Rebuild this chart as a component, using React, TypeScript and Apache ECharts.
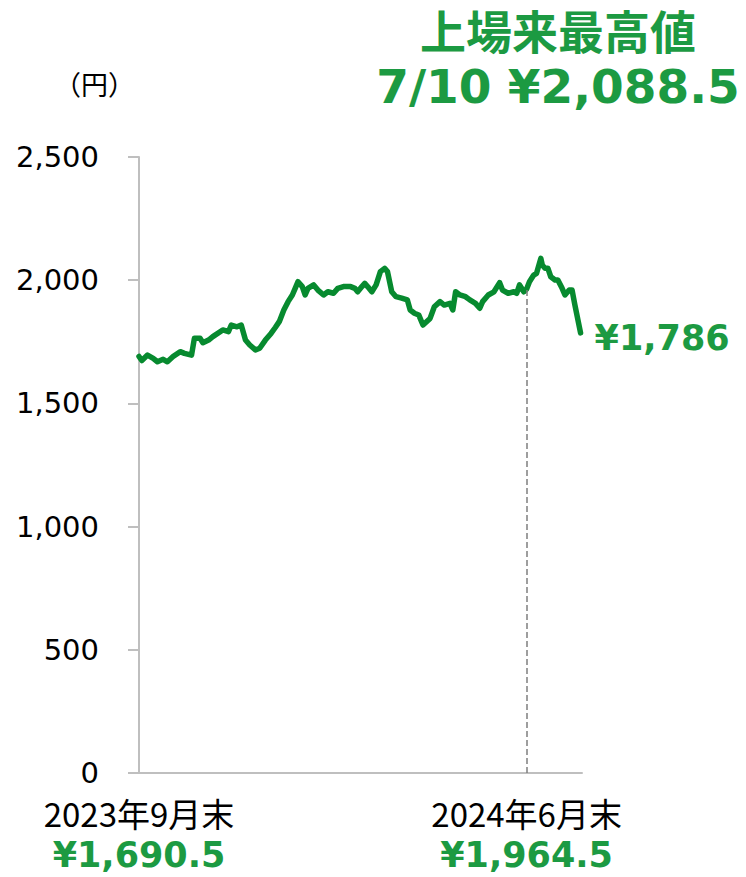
import React, { useEffect, useRef } from "react";
import * as echarts from "echarts";

const dates: string[] = [
  "2023-09-29", "2023-10-01", "2023-10-05", "2023-10-09", "2023-10-12", "2023-10-16", "2023-10-19", "2023-10-23",
  "2023-10-28", "2023-10-31", "2023-11-05", "2023-11-07", "2023-11-11", "2023-11-13", "2023-11-17", "2023-11-20",
  "2023-11-27", "2023-12-01", "2023-12-03", "2023-12-07", "2023-12-10", "2023-12-13", "2023-12-16", "2023-12-20",
  "2023-12-23", "2023-12-27", "2023-12-31", "2024-01-03", "2024-01-06", "2024-01-09", "2024-01-12", "2024-01-15",
  "2024-01-17", "2024-01-19", "2024-01-22", "2024-01-24", "2024-01-26", "2024-01-30", "2024-02-02", "2024-02-06",
  "2024-02-09", "2024-02-13", "2024-02-16", "2024-02-20", "2024-02-25", "2024-02-28", "2024-03-01", "2024-03-04",
  "2024-03-06", "2024-03-08", "2024-03-11", "2024-03-14", "2024-03-17", "2024-03-20", "2024-03-22", "2024-03-25",
  "2024-03-28", "2024-04-01", "2024-04-05", "2024-04-07", "2024-04-10", "2024-04-13", "2024-04-16", "2024-04-21",
  "2024-04-24", "2024-04-28", "2024-05-01", "2024-05-05", "2024-05-07", "2024-05-09", "2024-05-12", "2024-05-16",
  "2024-05-19", "2024-05-23", "2024-05-26", "2024-05-28", "2024-06-01", "2024-06-05", "2024-06-09", "2024-06-11",
  "2024-06-15", "2024-06-19", "2024-06-21", "2024-06-23", "2024-06-26", "2024-06-28", "2024-06-30", "2024-07-03",
  "2024-07-05", "2024-07-08", "2024-07-09", "2024-07-11", "2024-07-13", "2024-07-15", "2024-07-18", "2024-07-20",
  "2024-07-23", "2024-07-25", "2024-07-28", "2024-07-30", "2024-08-01", "2024-08-05",
];

const prices: number[] = [
  1690.5, 1674, 1696, 1683, 1669, 1679, 1669, 1690,
  1710, 1703, 1696, 1764, 1764, 1746, 1757, 1771,
  1798, 1791, 1818, 1811, 1818, 1757, 1737, 1717,
  1724, 1757, 1784, 1808, 1834, 1879, 1913, 1940,
  1967, 1994, 1974, 1940, 1967, 1981, 1960, 1940,
  1953, 1947, 1967, 1974, 1974, 1967, 1953, 1974,
  1987, 1974, 1953, 1981, 2035, 2048, 2035, 1953,
  1933, 1927, 1920, 1879, 1866, 1859, 1818, 1845,
  1892, 1913, 1899, 1906, 1879, 1953, 1940, 1933,
  1920, 1906, 1886, 1913, 1940, 1953, 1990, 1960,
  1947, 1953, 1947, 1981, 1953, 1964.5, 1994, 2021,
  2028, 2088.5, 2062, 2048, 2048, 2014, 2001, 2001,
  1967, 1940, 1960, 1960, 1899, 1786,
];

const axisStart = "2023-09-29";
const axisEnd = "2024-08-06";
const yTicks: number[] = [0, 500, 1000, 1500, 2000, 2500];
const labelDates: string[] = ["2023-09-29", "2024-06-28"];
const labelTexts: string[] = ["2023年9月末", "2024年6月末"];
const labelPrices: string[] = ["¥1,690.5", "¥1,964.5"];
const markDate = "2024-06-28";
const markValue = 1964.5;
const titleLine1 = "上場来最高値";
const titleLine2 = "7/10 ¥2,088.5";
const unitLabel = "（円）";

const GREEN_LINE = "#078a2f";
const GREEN_TEXT = "#1c9a42";

function toTs(s: string): number {
  const [y, m, d] = s.split("-").map(Number);
  return new Date(y, m - 1, d).getTime();
}

export default function App() {
  const ref = useRef<HTMLDivElement>(null);

  useEffect(() => {
    if (!ref.current) return;
    const chart = echarts.init(ref.current, undefined, { renderer: "svg" });
    const labelTs = labelDates.map(toTs);
    const option: any = {
      animation: false,
      backgroundColor: "#ffffff",
      title: [
        {
          left: 558,
          top: 4,
          padding: 0,
          textAlign: "center",
          text: titleLine1,
          textStyle: { fontFamily: "Noto Sans CJK JP", fontWeight: "bold", fontSize: 46, color: GREEN_TEXT, lineHeight: 50 },
        },
        {
          left: 558,
          top: 60,
          padding: 0,
          textAlign: "center",
          text: titleLine2,
          textStyle: { fontFamily: "DejaVu Sans", fontWeight: "bold", fontSize: 47, color: GREEN_TEXT, lineHeight: 52 },
        },
      ],
      grid: { left: 139, right: 164, top: 157, bottom: 104 },
      xAxis: {
        type: "value",
        min: toTs(axisStart),
        max: toTs(axisEnd),
        axisLine: { show: true, onZero: false, lineStyle: { color: "#bfbfbf", width: 2 } },
        axisTick: { show: false },
        splitLine: { show: false },
        axisLabel: {
          customValues: labelTs,
          margin: 20,
          formatter: (v: number) => {
            let idx = 0;
            let best = Infinity;
            labelTs.forEach((t, i) => {
              const d = Math.abs(t - v);
              if (d < best) { best = d; idx = i; }
            });
            return `{d|${labelTexts[idx]}}\n{p|${labelPrices[idx]}}`;
          },
          rich: {
            d: { fontFamily: "Noto Sans CJK JP", fontSize: 33, color: "#000000", lineHeight: 40 },
            p: { fontFamily: "DejaVu Sans", fontWeight: "bold", fontSize: 35, color: GREEN_TEXT, lineHeight: 44 },
          },
        },
      },
      yAxis: {
        type: "value",
        min: yTicks[0],
        max: yTicks[yTicks.length - 1],
        interval: 500,
        name: unitLabel,
        nameLocation: "end",
        nameGap: 60,
        nameTextStyle: {
          fontFamily: "Noto Sans CJK JP",
          fontSize: 27,
          color: "#000000",
          align: "right",
          padding: [0, 4, 0, 0],
        },
        axisLine: { show: true, lineStyle: { color: "#bfbfbf", width: 2 } },
        axisTick: { show: true, length: 11, lineStyle: { color: "#bfbfbf", width: 2 } },
        splitLine: { show: false },
        axisLabel: {
          margin: 40,
          fontFamily: "DejaVu Sans",
          fontSize: 29,
          color: "#000000",
          formatter: (v: number) => v.toLocaleString("en-US"),
        },
      },
      series: [
        {
          type: "line",
          data: dates.map((d, i) => [toTs(d), prices[i]]),
          showSymbol: false,
          symbol: "none",
          lineStyle: { color: GREEN_LINE, width: 5.5, join: "round", cap: "round" },
          endLabel: {
            show: true,
            distance: 14,
            offset: [0, 5],
            fontFamily: "DejaVu Sans",
            fontWeight: "bold",
            fontSize: 35,
            color: GREEN_TEXT,
            formatter: (p: any) => "¥" + Number(p.value[1]).toLocaleString("en-US"),
          },
          markLine: {
            silent: true,
            symbol: "none",
            label: { show: false },
            lineStyle: { color: "#7f7f7f", type: "dashed", width: 1.5 },
            data: [[{ coord: [toTs(markDate), 0] }, { coord: [toTs(markDate), markValue] }]],
          },
          z: 3,
        },
      ],
    };
    chart.setOption(option);
    return () => chart.dispose();
  }, []);

  return (
    <div
      ref={ref}
      style={{ position: "fixed", left: 0, top: 0, width: 746, height: 877, background: "#fff" }}
    />
  );
}
